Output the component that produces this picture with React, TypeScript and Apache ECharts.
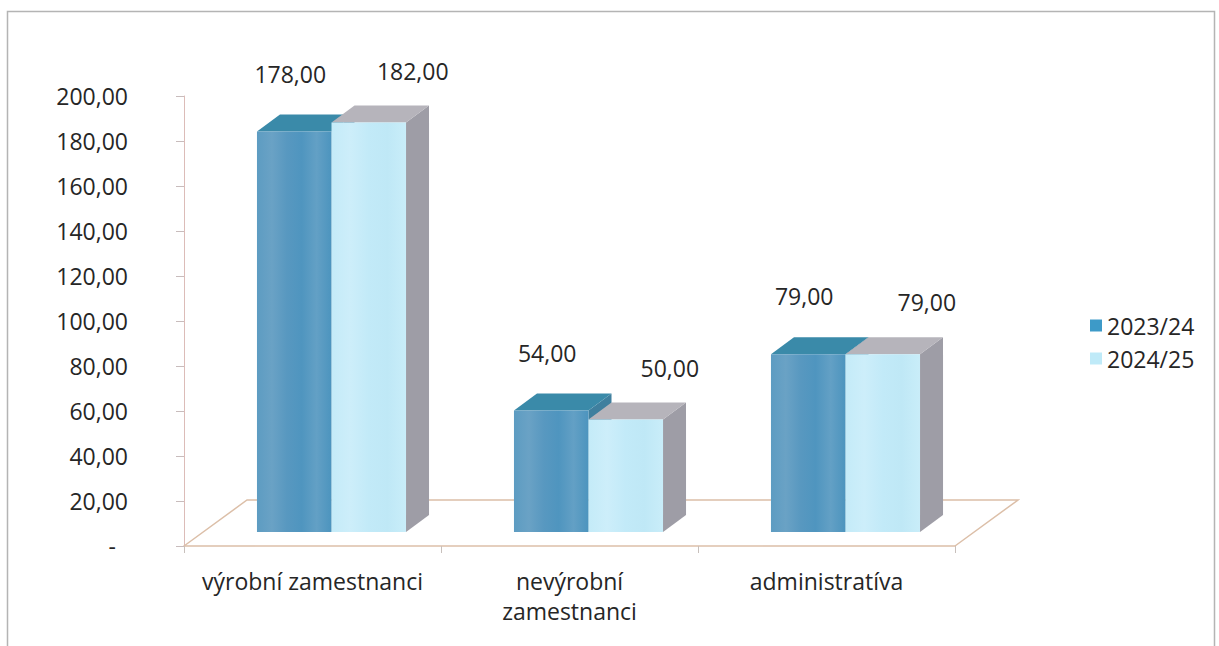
import React, { useEffect, useRef } from "react";
import * as echarts from "echarts";

const categories = ["výrobní zamestnanci", "nevýrobní zamestnanci", "administratíva"];
const seriesNames = ["2023/24", "2024/25"];
const values2023 = [178, 54, 79];
const values2024 = [182, 50, 79];
const yTicks = { min: 0, max: 200, interval: 20 };

const FONT = "'Open Sans', 'Noto Sans', sans-serif";
const TEXT = "#262626";
const FS = 23;
const FRONT_SHIFT = [19, -14];
const BAR_DEPTH = [23, -17];
const FLOOR_DEPTH = [63, -46];

const fmt = (v: number) => v.toFixed(2).replace(".", ",");

const faceStyles = [
  {
    legend: "#3d9ac8",
    front: ["#5d9cc2", "#6aa2c5", "#5898c0", "#4f95bf", "#63a0c5", "#4c94be"],
    top: "#3a8aa9",
    side: "#3f7f9e",
    label: [-4, -58],
  },
  {
    legend: "#bfeaf8",
    front: ["#c4ebf8", "#cdeefa", "#c2eaf8", "#bfe8f6", "#c9edf9"],
    top: "#b6b4bb",
    side: "#9e9da6",
    label: [44, -52],
  },
];

function makeRender(si: number) {
  const st = faceStyles[si];
  return (params: any, api: any) => {
    const cat = api.value(0);
    const val = api.value(1);
    const base = api.coord([cat, 0]);
    const tp = api.coord([cat, val]);
    const band = api.size([1, 0])[0];
    const w = band * 0.29;
    const fx = base[0] + FRONT_SHIFT[0] + (si === 0 ? -w : 0);
    const yb = base[1] + FRONT_SHIFT[1];
    const yt = tp[1] + FRONT_SHIFT[1];
    const [dx, dy] = BAR_DEPTH;
    const stops = st.front.map((c, i) => ({ offset: i / (st.front.length - 1), color: c }));
    return {
      type: "group",
      children: [
        {
          type: "polygon",
          shape: { points: [[fx + w, yt], [fx + w + dx, yt + dy], [fx + w + dx, yb + dy], [fx + w, yb]] },
          style: { fill: st.side },
        },
        {
          type: "polygon",
          shape: { points: [[fx, yt], [fx + w, yt], [fx + w + dx, yt + dy], [fx + dx, yt + dy]] },
          style: { fill: st.top },
        },
        {
          type: "rect",
          shape: { x: fx, y: yt, width: w, height: yb - yt },
          style: {
            fill: { type: "linear", x: 0, y: 0, x2: 1, y2: 0, colorStops: stops },
          },
        },
        {
          type: "text",
          x: fx + w / 2 + st.label[0],
          y: yt + st.label[1],
          style: {
            text: fmt(val),
            fill: TEXT,
            font: `${FS}px ${FONT}`,
            align: "center",
            verticalAlign: "middle",
          },
        },
      ],
    };
  };
}

export default function App() {
  const ref = useRef<HTMLDivElement>(null);
  useEffect(() => {
    if (!ref.current) return;
    const chart = echarts.init(ref.current, undefined, { renderer: "svg" });
    const floorRender = (params: any, api: any) => {
      const cs = params.coordSys;
      const x0 = cs.x;
      const x1 = cs.x + cs.width;
      const yb = cs.y + cs.height;
      const [dx, dy] = FLOOR_DEPTH;
      return {
        type: "polyline",
        shape: { points: [[x0, yb], [x0 + dx, yb + dy], [x1 + dx, yb + dy], [x1, yb]] },
        style: { stroke: "#dcbfa8", lineWidth: 1.5, fill: "none" },
      };
    };
    chart.setOption({
      animation: false,
      backgroundColor: "#ffffff",
      textStyle: { fontFamily: FONT },
      graphic: [
        {
          type: "rect",
          shape: { x: 7.5, y: 11.5, width: 1207, height: 650 },
          style: { fill: "none", stroke: "#b4b4b4", lineWidth: 1.5 },
          silent: true,
          z: -10,
        },
      ],
      grid: { left: 184, top: 96, width: 771, height: 450 },
      legend: {
        data: seriesNames,
        orient: "vertical",
        left: 1085,
        top: 309,
        icon: "rect",
        itemWidth: 12,
        itemHeight: 12,
        itemGap: 10,
        textStyle: { color: TEXT, fontSize: FS, fontFamily: FONT },
      },
      xAxis: {
        type: "category",
        data: categories,
        axisLine: { lineStyle: { color: "#dcbfa8", width: 1.5 } },
        axisTick: { show: true, length: 7, lineStyle: { color: "#c8c0bc" } },
        axisLabel: {
          interval: 0,
          color: TEXT,
          fontSize: FS,
          fontFamily: FONT,
          margin: 20,
          lineHeight: 30,
          formatter: (v: string) => (v.length > 20 ? v.replace(" ", "\n") : v),
        },
        splitLine: { show: false },
      },
      yAxis: {
        type: "value",
        min: yTicks.min,
        max: yTicks.max,
        interval: yTicks.interval,
        axisLine: { show: true, lineStyle: { color: "#dcbcb8", width: 1 } },
        axisTick: { show: true, length: 8, lineStyle: { color: "#c8bcbc" } },
        splitLine: { show: false },
        axisLabel: {
          color: TEXT,
          fontSize: FS,
          fontFamily: FONT,
          margin: 56,
          formatter: (v: number) => (v === 0 ? "{dash|-}" : fmt(v)),
          rich: { dash: { fontSize: FS, color: TEXT, padding: [0, 12, 0, 0] } },
        },
      },
      series: [
        {
          type: "custom",
          name: "floor",
          renderItem: floorRender,
          data: [[0, 0]],
          silent: true,
          z: 1,
        },
        {
          type: "custom",
          name: seriesNames[0],
          renderItem: makeRender(0),
          itemStyle: { color: faceStyles[0].legend },
          encode: { x: 0, y: 1 },
          data: values2023.map((v, i) => [i, v]),
          z: 2,
        },
        {
          type: "custom",
          name: seriesNames[1],
          renderItem: makeRender(1),
          itemStyle: { color: faceStyles[1].legend },
          encode: { x: 0, y: 1 },
          data: values2024.map((v, i) => [i, v]),
          z: 3,
        },
      ],
    });
    return () => chart.dispose();
  }, []);
  return (
    <div
      ref={ref}
      style={{ position: "fixed", left: 0, top: 0, width: 1219, height: 646 }}
    />
  );
}
